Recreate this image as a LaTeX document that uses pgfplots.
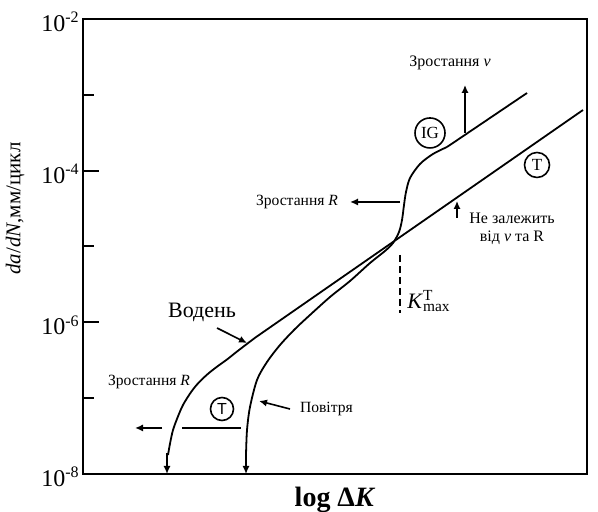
\documentclass[border=0pt]{standalone}
\usepackage{fontspec}
\setmainfont{Liberation Serif}
\setsansfont{Liberation Sans}
\usepackage{pgfplots}
\pgfplotsset{compat=1.18}
\usetikzlibrary{arrows.meta}
\tikzset{arr/.style={-{Latex[length=4pt,width=3.6pt]}, line width=0.8pt, black}}
\begin{document}
\begin{tikzpicture}[font=\fontsize{7.8}{9}\selectfont]
\path[use as bounding box] (-41.5pt,-19pt) rectangle (257.5pt,237pt);
\begin{axis}[
  at={(0,0)}, anchor=south west,
  scale only axis, width=252pt, height=227.5pt,
  xmin=83, xmax=587, ymin=-8, ymax=-2,
  xtick=\empty,
  ytick={-8,-6,-4,-2},
  yticklabels={10\textsuperscript{-8},10\textsuperscript{-6},10\textsuperscript{-4},10\textsuperscript{-2}},
  minor ytick={-7,-5,-3},
  ytick pos=left, tick align=inside,
  major tick length=8pt, minor tick length=5.5pt,
  tick style={line width=1pt, black},
  axis line style={line width=1.1pt},
  yticklabel style={font=\fontsize{12}{14}\selectfont, inner sep=0pt, xshift=-1.5pt, yshift=-1.5pt},
  clip=false,
]
% hydrogen curve (T)
\addplot[black, line width=0.9pt, smooth, tension=0.5] coordinates {
 (168,-7.75) (170,-7.60) (173,-7.42) (178,-7.24) (183,-7.09) (190,-6.94)
 (197,-6.82) (207,-6.69) (217,-6.585) (227,-6.49) (237,-6.385) (255,-6.204)};
\addplot[black, line width=0.9pt] coordinates {(255,-6.204) (583,-3.20)};
% air curve (IG)
\addplot[black, line width=0.9pt, smooth, tension=0.5] coordinates {
 (246,-7.749) (247,-7.420) (250,-7.116) (257,-6.760) (267,-6.523) (280,-6.299)
 (295,-6.088) (310,-5.903) (330,-5.666) (350,-5.455) (370,-5.218) (385,-5.059)
 (393,-4.954) (399,-4.809) (402,-4.651) (404,-4.453) (406,-4.281) (410,-4.097)
 (420,-3.912) (433,-3.780) (447,-3.688)};
\addplot[black, line width=0.9pt] coordinates {(447,-3.688) (527,-2.976)};

% bottom arrows
\draw[arr] (167,-7.72) -- (167,-8);
\draw[arr] (246,-7.72) -- (246,-8);
% lower-left arrow and segment
\draw[line width=0.9pt] (182,-7.393) -- (241,-7.393);
\draw[arr] (162,-7.393) -- (135,-7.393);
% circles
\node[circle, draw, line width=0.8pt, minimum size=11.5pt, inner sep=0pt, font=\sffamily\fontsize{8}{9}\selectfont] at (222,-7.143) {T};
\node[circle, draw, line width=0.8pt, minimum size=12.5pt, inner sep=0pt, font=\fontsize{8.5}{9}\selectfont] at (537,-3.925) {T};
\node[circle, draw, line width=0.8pt, minimum size=15pt, inner sep=0pt, font=\fontsize{8.5}{9}\selectfont] at (430,-3.503) {IG};
% labels
\node at (149,-6.787) {Зростання \textit{R}};
\node[font=\fontsize{11}{12}\selectfont] at (202,-5.864) {Водень};
\draw[arr] (217,-6.075) -- (247,-6.273);
\node[anchor=west] at (293,-7.143) {Повітря};
\draw[arr] (290,-7.143) -- (259,-7.037);
\node at (297,-4.413) {Зростання \textit{R}};
\draw[arr] (400,-4.413) -- (350,-4.413);
\draw[line width=0.9pt, dash pattern=on 3.5pt off 2pt] (400,-5.112) -- (400,-5.877);
\node[font=\fontsize{11}{12}\selectfont, anchor=west, inner sep=1pt] at (405,-5.72) {\textit{K}\rlap{\textsuperscript{T}}\textsubscript{max}};
\node[font=\fontsize{8}{9}\selectfont] at (450,-2.58) {Зростання \textit{v}};
\draw[arr] (465,-3.503) -- (465,-2.87);
\draw[arr] (457,-4.624) -- (457,-4.40);
\node[align=center, font=\fontsize{8}{9}\selectfont] at (512,-4.769) {Не залежить\\від \textit{v} та R};
% axis labels
\node[font=\fontsize{14}{16}\selectfont\bfseries] at (335,-8) [yshift=-13pt] {log Δ\textit{K}};
\node[xshift=-34pt, rotate=90, font=\fontsize{10.5}{12}\selectfont] at (83,-4.5) {\textit{da}/\textit{dN},мм/цикл};
\end{axis}
\end{tikzpicture}
\end{document}
